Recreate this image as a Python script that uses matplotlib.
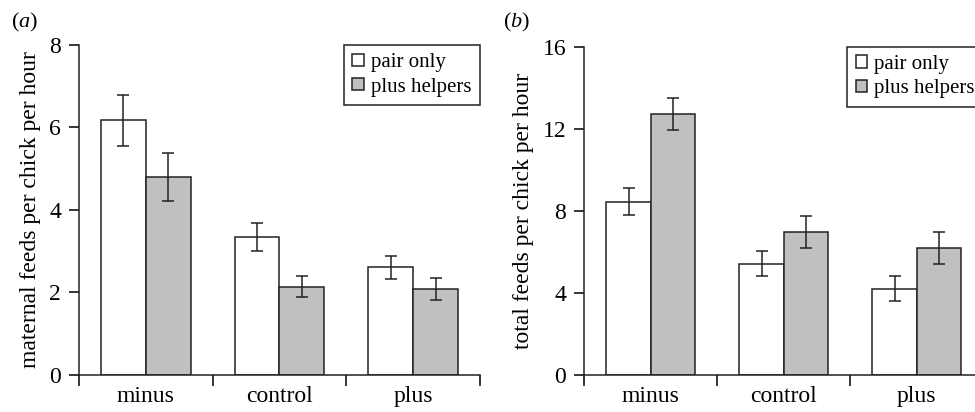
import matplotlib
matplotlib.use('Agg')
import matplotlib.pyplot as plt
import numpy as np
from matplotlib.ticker import FixedLocator

plt.rcParams['font.family'] = 'Liberation Serif'
plt.rcParams['font.size'] = 17
plt.rcParams['mathtext.fontset'] = 'custom'
plt.rcParams['mathtext.it'] = 'Liberation Serif:italic'
plt.rcParams['mathtext.rm'] = 'Liberation Serif'

groups = ['minus', 'control', 'plus']
series = ['pair only', 'plus helpers']

maternal_pair = [6.17, 3.34, 2.61]
maternal_pair_err = [0.62, 0.34, 0.28]
maternal_help = [4.79, 2.14, 2.09]
maternal_help_err = [0.58, 0.26, 0.26]

total_pair = [8.45, 5.42, 4.21]
total_pair_err = [0.65, 0.60, 0.60]
total_help = [12.73, 6.97, 6.19]
total_help_err = [0.77, 0.77, 0.78]

fig = plt.figure(figsize=(9.75, 4.12), dpi=100)
ax_a = fig.add_axes([0.081, 0.0898, 0.4113, 0.801])
ax_b = fig.add_axes([0.5993, 0.0898, 0.4092, 0.7968])


def draw_panel(ax, pair, pair_err, helpers, helpers_err, ymax, yticks, ylabel):
    x = np.arange(len(groups))
    w = 0.335
    err_kw = dict(ecolor='#222222', elinewidth=1.1, capsize=4, capthick=1.1)
    ax.bar(x - w / 2, pair, w, yerr=pair_err, color='white', edgecolor='#222222',
           linewidth=1.1, label=series[0], error_kw=err_kw)
    ax.bar(x + w / 2, helpers, w, yerr=helpers_err, color='#c0c0c0', edgecolor='#222222',
           linewidth=1.1, label=series[1], error_kw=err_kw)
    ax.set_xlim(-0.5, len(groups) - 0.5)
    ax.set_ylim(0, ymax)
    ax.set_yticks(yticks)
    ax.set_xticks(x)
    ax.set_xticklabels(groups)
    ax.xaxis.set_minor_locator(FixedLocator(np.arange(-0.5, len(groups), 1.0)))
    ax.tick_params(axis='x', which='major', length=0, pad=8)
    ax.tick_params(axis='x', which='minor', length=8, width=1.1, direction='out')
    ax.tick_params(axis='y', length=7, width=1.1, direction='out', pad=6)
    for s in ['top', 'right']:
        ax.spines[s].set_visible(False)
    for s in ['left', 'bottom']:
        ax.spines[s].set_linewidth(1.1)
        ax.spines[s].set_color('#222222')
    ax.set_ylabel(ylabel, labelpad=6)
    leg = ax.legend(loc='upper right', bbox_to_anchor=(1.0, 1.0), borderaxespad=0,
                    fancybox=False, framealpha=1, edgecolor='#222222',
                    handlelength=0.55, handleheight=0.55, handletextpad=0.35,
                    labelspacing=0.25, borderpad=0.4, fontsize=15)
    leg.get_frame().set_linewidth(1.1)


draw_panel(ax_a, maternal_pair, maternal_pair_err, maternal_help, maternal_help_err,
           8, [0, 2, 4, 6, 8], 'maternal feeds per chick per hour')
draw_panel(ax_b, total_pair, total_pair_err, total_help, total_help_err,
           16, [0, 4, 8, 12, 16], 'total feeds per chick per hour')

fig.text(0.011, 0.945, r'($\it{a}$)', fontsize=16, va='center')
fig.text(0.516, 0.945, r'($\it{b}$)', fontsize=16, va='center')

fig.savefig('out.png', dpi=100)
